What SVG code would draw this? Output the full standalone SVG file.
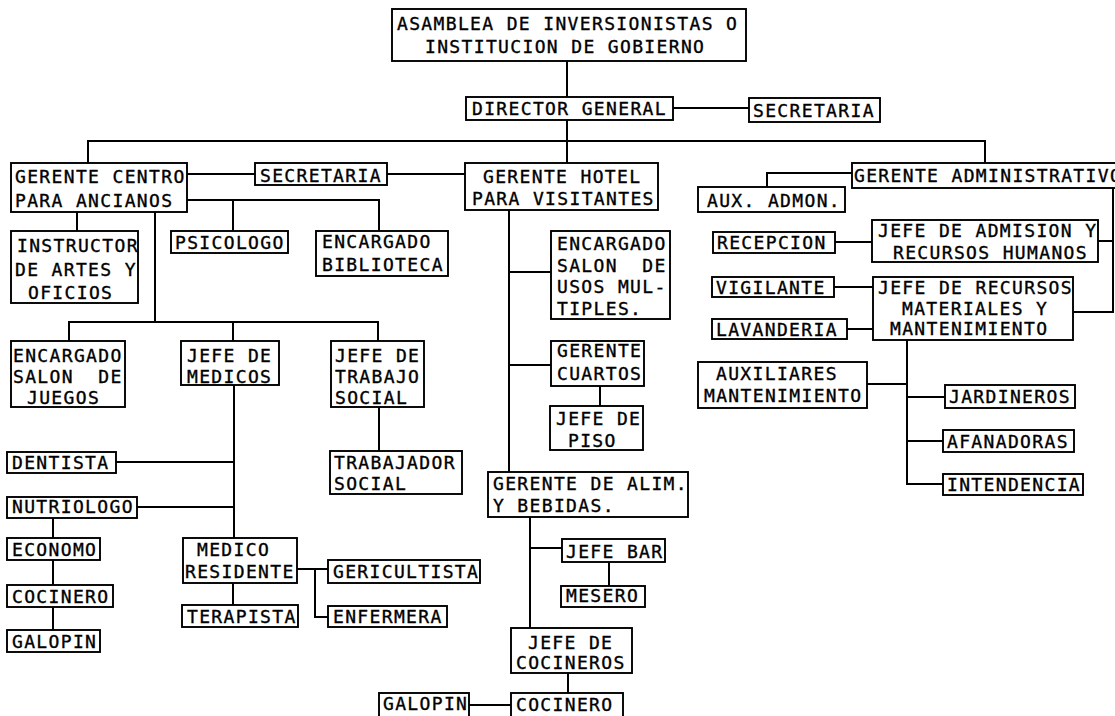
<svg xmlns="http://www.w3.org/2000/svg" width="1115" height="716" viewBox="0 0 1115 716">
<style>
rect.b{fill:#fff;stroke:#000;stroke-width:1.9}
text{font-family:"DejaVu Sans Mono","Liberation Mono",monospace;font-size:18px;letter-spacing:1.35px;fill:#000;stroke:#000;stroke-width:0.35}
#connectors path{fill:none;stroke:#000;stroke-width:2}
</style>
<rect width="1115" height="716" fill="#fff"/>
<g id="connectors">
<path d="M567 61V97"/>
<path d="M673 108H749"/>
<path d="M567 120V163"/>
<path d="M88 163V141H985V163"/>
<path d="M187 174H255"/>
<path d="M387 174H465"/>
<path d="M77 212V231"/>
<path d="M187 200H379V231"/>
<path d="M233 200V231"/>
<path d="M155 212V322"/>
<path d="M69 341V322H378V341"/>
<path d="M233 322V341"/>
<path d="M234 385V538"/>
<path d="M116 462H234"/>
<path d="M137 507H234"/>
<path d="M53 518V630"/>
<path d="M233 583V605"/>
<path d="M297 569H328"/>
<path d="M315 569V617H328"/>
<path d="M379 407V451"/>
<path d="M509 210V472"/>
<path d="M509 272H551"/>
<path d="M509 365H551"/>
<path d="M600 386V406"/>
<path d="M530 517V628"/>
<path d="M530 548H562"/>
<path d="M609 562V586"/>
<path d="M568 673V693"/>
<path d="M469 705H511"/>
<path d="M852 173H767V187"/>
<path d="M1113 188V312H1073"/>
<path d="M1098 241H1113"/>
<path d="M835 242H872"/>
<path d="M834 287H873"/>
<path d="M847 329H873"/>
<path d="M907 340V484H943"/>
<path d="M867 384H907"/>
<path d="M907 397H945"/>
<path d="M907 441H943"/>
</g>
<g id="n-asamblea"><rect class="b" x="392" y="9" width="354" height="52"/><text x="397" y="30">ASAMBLEA DE INVERSIONISTAS O</text><text x="425" y="53">INSTITUCION DE GOBIERNO</text></g>
<g id="n-director"><rect class="b" x="466" y="97" width="207" height="23"/><text x="472" y="114.5">DIRECTOR GENERAL</text></g>
<g id="n-secretaria1"><rect class="b" x="749" y="98" width="131" height="24"/><text x="753" y="116.5">SECRETARIA</text></g>
<g id="n-gerente-centro"><rect class="b" x="11" y="163" width="176" height="49"/><text x="15" y="183">GERENTE CENTRO</text><text x="15" y="207">PARA ANCIANOS</text></g>
<g id="n-secretaria2"><rect class="b" x="255" y="163" width="132" height="22"/><text x="260" y="181.5">SECRETARIA</text></g>
<g id="n-gerente-hotel"><rect class="b" x="465" y="163" width="193" height="47"/><text x="483" y="183">GERENTE HOTEL</text><text x="472" y="205">PARA VISITANTES</text></g>
<g id="n-gerente-admin"><rect class="b" x="852" y="163" width="280" height="25"/><text x="854" y="182">GERENTE ADMINISTRATIVO</text></g>
<g id="n-aux-admon"><rect class="b" x="698" y="187" width="147" height="25"/><text x="707" y="206.5">AUX. ADMON.</text></g>
<g id="n-instructor"><rect class="b" x="11" y="231" width="127" height="72"/><text x="17" y="252">INSTRUCTOR</text><text x="15" y="276">DE ARTES Y</text><text x="28" y="299">OFICIOS</text></g>
<g id="n-psicologo"><rect class="b" x="171" y="231" width="117" height="22"/><text x="175" y="248.5">PSICOLOGO</text></g>
<g id="n-biblioteca"><rect class="b" x="316" y="231" width="132" height="45"/><text x="322" y="248">ENCARGADO</text><text x="322" y="271">BIBLIOTECA</text></g>
<g id="n-usos"><rect class="b" x="551" y="231" width="119" height="88"/><text x="557" y="250">ENCARGADO</text><text x="557" y="272" xml:space="preserve">SALON  DE</text><text x="557" y="293">USOS MUL-</text><text x="557" y="315">TIPLES.</text></g>
<g id="n-cuartos"><rect class="b" x="551" y="341" width="93" height="45"/><text x="557" y="357">GERENTE</text><text x="557" y="380">CUARTOS</text></g>
<g id="n-piso"><rect class="b" x="550" y="406" width="93" height="44"/><text x="556" y="424.5">JEFE DE</text><text x="568" y="446.5">PISO</text></g>
<g id="n-alim"><rect class="b" x="488" y="472" width="200" height="45"/><text x="493" y="489.5">GERENTE DE ALIM.</text><text x="493" y="511.5">Y BEBIDAS.</text></g>
<g id="n-jefe-bar"><rect class="b" x="562" y="539" width="103" height="23"/><text x="566" y="557.5">JEFE BAR</text></g>
<g id="n-mesero"><rect class="b" x="561" y="586" width="84" height="21"/><text x="566" y="602">MESERO</text></g>
<g id="n-jefe-cocineros"><rect class="b" x="511" y="628" width="121" height="45"/><text x="528" y="648.5">JEFE DE</text><text x="516" y="668.5">COCINEROS</text></g>
<g id="n-cocinero2"><rect class="b" x="511" y="693" width="112" height="30"/><text x="516" y="711">COCINERO</text></g>
<g id="n-galopin2"><rect class="b" x="379" y="693" width="90" height="30"/><text x="383" y="710">GALOPIN</text></g>
<g id="n-juegos"><rect class="b" x="11" y="341" width="114" height="66"/><text x="13" y="362">ENCARGADO</text><text x="13" y="383" xml:space="preserve">SALON  DE</text><text x="27" y="403.5">JUEGOS</text></g>
<g id="n-medicos"><rect class="b" x="181" y="341" width="98" height="44"/><text x="187" y="362">JEFE DE</text><text x="187" y="383">MEDICOS</text></g>
<g id="n-trabajo"><rect class="b" x="331" y="341" width="93" height="66"/><text x="335" y="362">JEFE DE</text><text x="335" y="383">TRABAJO</text><text x="335" y="404">SOCIAL</text></g>
<g id="n-dentista"><rect class="b" x="7" y="452" width="109" height="21"/><text x="12" y="469">DENTISTA</text></g>
<g id="n-trabajador"><rect class="b" x="330" y="451" width="132" height="43"/><text x="334" y="468.5">TRABAJADOR</text><text x="334" y="490">SOCIAL</text></g>
<g id="n-nutriologo"><rect class="b" x="7" y="497" width="130" height="21"/><text x="12" y="513">NUTRIOLOGO</text></g>
<g id="n-economo"><rect class="b" x="7" y="538" width="93" height="22"/><text x="12" y="556">ECONOMO</text></g>
<g id="n-cocinero1"><rect class="b" x="7" y="585" width="106" height="22"/><text x="12" y="603">COCINERO</text></g>
<g id="n-galopin1"><rect class="b" x="7" y="630" width="93" height="22"/><text x="12" y="648">GALOPIN</text></g>
<g id="n-medico-residente"><rect class="b" x="183" y="538" width="114" height="45"/><text x="197" y="556">MEDICO</text><text x="185" y="578">RESIDENTE</text></g>
<g id="n-terapista"><rect class="b" x="182" y="605" width="116" height="22"/><text x="187" y="623">TERAPISTA</text></g>
<g id="n-gericultista"><rect class="b" x="328" y="560" width="152" height="23"/><text x="333" y="578">GERICULTISTA</text></g>
<g id="n-enfermera"><rect class="b" x="328" y="606" width="119" height="21"/><text x="333" y="623">ENFERMERA</text></g>
<g id="n-admision"><rect class="b" x="872" y="220" width="226" height="42"/><text x="878" y="236.5">JEFE DE ADMISION Y</text><text x="893" y="258.5">RECURSOS HUMANOS</text></g>
<g id="n-recepcion"><rect class="b" x="713" y="232" width="122" height="21"/><text x="717" y="249">RECEPCION</text></g>
<g id="n-vigilante"><rect class="b" x="712" y="277" width="122" height="20"/><text x="716" y="293.5">VIGILANTE</text></g>
<g id="n-recursos-materiales"><rect class="b" x="873" y="277" width="200" height="63"/><text x="878" y="293.5">JEFE DE RECURSOS</text><text x="902" y="314.5">MATERIALES Y</text><text x="890" y="335">MANTENIMIENTO</text></g>
<g id="n-lavanderia"><rect class="b" x="712" y="319" width="135" height="20"/><text x="716" y="335.5">LAVANDERIA</text></g>
<g id="n-auxiliares"><rect class="b" x="698" y="362" width="169" height="46"/><text x="716" y="380">AUXILIARES</text><text x="704" y="401.5">MANTENIMIENTO</text></g>
<g id="n-jardineros"><rect class="b" x="945" y="385" width="130" height="23"/><text x="949" y="403">JARDINEROS</text></g>
<g id="n-afanadoras"><rect class="b" x="943" y="430" width="131" height="22"/><text x="947" y="447.5">AFANADORAS</text></g>
<g id="n-intendencia"><rect class="b" x="943" y="474" width="140" height="21"/><text x="947" y="490.5">INTENDENCIA</text></g>
</svg>
